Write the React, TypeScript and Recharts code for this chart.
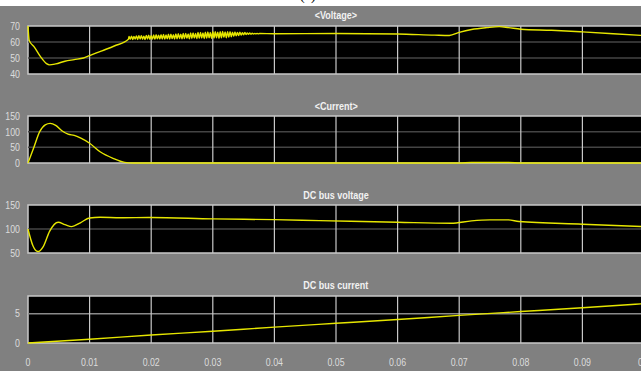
import { LineChart, Line, XAxis, YAxis, ReferenceArea, ReferenceLine } from 'recharts';

// time axis shared by all four scopes
const X_TICKS = [0, 0.01, 0.02, 0.03, 0.04, 0.05, 0.06, 0.07, 0.08, 0.09, 0.1];
const X_GRID = [0.01, 0.02, 0.03, 0.04, 0.05, 0.06, 0.07, 0.08, 0.09];

// <Voltage>  [t, v]  (start-up dip, switching ripple, then the bump near 0.075)
const voltage: [number, number][] = [
  [0, 70], [0.0002, 61], [0.001, 57], [0.002, 51], [0.003, 46.5], [0.0035, 45.7], [0.0045, 46.3],
  [0.006, 48], [0.0075, 49], [0.009, 50], [0.01, 51.5], [0.012, 54.5], [0.014, 57.5], [0.0163, 61.7],
  [0.0164, 63.5], [0.0166, 61.7], [0.0168, 63.7], [0.017, 61.6], [0.0172, 63.4], [0.0174, 61.8],
  [0.0176, 63.8], [0.0178, 61.6], [0.018, 63.9], [0.0182, 61.9], [0.0184, 64.0], [0.0186, 61.7],
  [0.0188, 63.7], [0.019, 61.6], [0.0192, 64.1], [0.0194, 61.9], [0.0196, 64.2], [0.0198, 61.7],
  [0.02, 64.0], [0.0202, 61.8], [0.0204, 64.4], [0.0206, 61.7], [0.0208, 64.5], [0.021, 62.0],
  [0.0212, 64.2], [0.0214, 61.8], [0.0216, 64.6], [0.0218, 61.9], [0.022, 64.7], [0.0222, 61.8],
  [0.0224, 64.4], [0.0226, 62.0], [0.0228, 64.8], [0.023, 61.9], [0.0232, 64.9], [0.0234, 62.1],
  [0.0236, 64.6], [0.0238, 61.9], [0.024, 65.0], [0.0242, 62.0], [0.0244, 65.2], [0.0246, 62.2],
  [0.0248, 64.9], [0.025, 62.0], [0.0252, 65.3], [0.0254, 62.1], [0.0256, 65.4], [0.0258, 62.3],
  [0.026, 65.1], [0.0262, 62.0], [0.0264, 65.6], [0.0266, 62.2], [0.0268, 65.7], [0.027, 62.4],
  [0.0272, 65.4], [0.0274, 62.1], [0.0276, 65.9], [0.0278, 62.3], [0.028, 66.0], [0.0282, 62.5],
  [0.0284, 65.7], [0.0286, 62.2], [0.0288, 66.1], [0.029, 62.4], [0.0292, 66.3], [0.0294, 62.6],
  [0.0296, 66.0], [0.0298, 62.3], [0.03, 66.4], [0.0302, 62.5], [0.0304, 66.5], [0.0306, 62.7],
  [0.0308, 66.2], [0.031, 62.4], [0.0312, 66.5], [0.0314, 62.6], [0.0316, 66.6], [0.0318, 62.9],
  [0.032, 66.3], [0.0322, 62.7], [0.0324, 66.5], [0.0326, 63.0], [0.0328, 66.4], [0.033, 63.3],
  [0.0332, 66.2], [0.0334, 63.5], [0.0336, 66.3], [0.0338, 63.8], [0.034, 66.0], [0.0342, 64.0],
  [0.0344, 66.1], [0.0346, 64.3], [0.0348, 65.8], [0.035, 64.5], [0.0352, 65.9], [0.0354, 64.6],
  [0.0356, 65.7], [0.0358, 64.8], [0.036, 65.6], [0.0362, 64.9], [0.0364, 65.5], [0.0366, 65.0],
  [0.0368, 65.4], [0.037, 65.1], [0.0372, 65.3], [0.0374, 65.1], [0.0376, 65.3],
  [0.04, 65.2], [0.05, 65.3], [0.06, 65], [0.066, 64.3], [0.0684, 64.1], [0.07, 66], [0.072, 67.8],
  [0.0745, 69], [0.0765, 69.6], [0.078, 69], [0.08, 68], [0.085, 67.3], [0.09, 66.3], [0.095, 65.2],
  [0.1, 64],
];

// <Current>
const current: [number, number][] = [
  [0, 0], [0.0009, 47], [0.0019, 100], [0.0028, 122], [0.0036, 126.5], [0.0045, 120], [0.0055, 103],
  [0.0065, 92], [0.0075, 88], [0.0085, 80], [0.01, 63], [0.0117, 36], [0.0138, 15], [0.0157, 2],
  [0.017, 0], [0.07, 0], [0.072, 1.5], [0.078, 1.5], [0.08, 0], [0.1, 0],
];

// DC bus voltage
const dcVoltage: [number, number][] = [
  [0, 100], [0.0008, 65], [0.0016, 53], [0.0025, 64], [0.0035, 95], [0.0049, 114], [0.006, 109],
  [0.0071, 105], [0.0085, 113], [0.01, 123], [0.0117, 124.5], [0.015, 123.5], [0.02, 124],
  [0.03, 121], [0.04, 119.5], [0.0473, 117.5], [0.06, 114], [0.0687, 112], [0.072, 117],
  [0.075, 119], [0.078, 119], [0.0797, 115.5], [0.09, 110], [0.1, 105],
];

// DC bus current
const dcCurrent: [number, number][] = [
  [0, 0], [0.01, 0.65], [0.02, 1.35], [0.03, 2.0], [0.04, 2.7], [0.05, 3.35],
  [0.06, 4.0], [0.07, 4.7], [0.08, 5.35], [0.09, 6.0], [0.1, 6.7],
];

const FONT = '"Liberation Sans", Arial, sans-serif';
const YELLOW = '#e6e600';
const FRAME = '#c8c8c8';

// scope labels are a condensed sans, so squeeze the glyphs horizontally
const NarrowTick = (props: any) => {
  const { x, y, payload, textAnchor, dy } = props;
  return (
    <text
      transform={`translate(${x},${y}) scale(0.8,1)`}
      textAnchor={textAnchor}
      dy={dy}
      fill="#dcdcdc"
      fontSize={11}
      fontFamily={FONT}
    >
      {String(payload.value)}
    </text>
  );
};

interface PanelProps {
  title: string;
  titleY: number;
  series: [number, number][];
  yDomain: [number, number];
  yTicks: number[];
  yGrid: number[];
  gridColor: string;
  top: number;
  bottom: number;
  showX?: boolean;
}

function Panel({ title, titleY, series, yDomain, yTicks, yGrid, gridColor, top, bottom, showX }: PanelProps) {
  const rows = series.map(([t, v]) => ({ t, v }));
  const mTop = 8;
  const h = bottom - top + mTop + (showX ? 28 : 8);

  return (
    <>
      <div style={{ position: 'absolute', left: 0, width: 672, top: titleY - 7, lineHeight: '14px', textAlign: 'center' }}>
        <span style={{ display: 'inline-block', transform: 'scaleX(0.82)', color: '#f2f2f2', fontSize: 11, fontWeight: 700, fontFamily: FONT }}>
          {title}
        </span>
      </div>
      <div style={{ position: 'absolute', left: 0, top: top - mTop }}>
        <LineChart width={660} height={h} data={rows} margin={{ top: mTop, right: 16, bottom: showX ? 0 : 8, left: 0 }}>
          <XAxis
            type="number"
            dataKey="t"
            domain={[0, 0.1]}
            ticks={X_TICKS}
            interval={0}
            hide={!showX}
            height={28}
            tick={<NarrowTick dy="0.71em" />}
            tickMargin={9}
            axisLine={false}
            tickLine={false}
          />
          <YAxis
            type="number"
            domain={yDomain}
            ticks={yTicks}
            interval={0}
            width={28}
            tick={<NarrowTick dy="0.35em" />}
            axisLine={false}
            tickLine={false}
          />
          <ReferenceArea x1={0} x2={0.1} y1={yDomain[0]} y2={yDomain[1]} fill="#000" fillOpacity={1} stroke={FRAME} strokeWidth={1.5} />
          {yGrid.map((y) => (
            <ReferenceLine key={'y' + y} y={y} stroke={gridColor} strokeWidth={1.5} />
          ))}
          {X_GRID.map((x) => (
            <ReferenceLine key={'x' + x} x={x} stroke={FRAME} strokeWidth={1.2} />
          ))}
          <Line type="monotoneX" dataKey="v" stroke={YELLOW} strokeWidth={1.4} dot={false} isAnimationActive={false} />
        </LineChart>
      </div>
    </>
  );
}

export default function App() {
  return (
    <div style={{ position: 'absolute', left: 0, top: 0, width: 641, height: 371, overflow: 'hidden', background: '#808080' }}>
      <div style={{ position: 'absolute', left: 0, top: 0, width: 641, height: 6, background: '#fff', overflow: 'hidden' }}>
        <div style={{ position: 'absolute', left: 300, top: -11, fontSize: 14, lineHeight: '14px', fontFamily: 'serif', color: '#000' }}>(a)</div>
      </div>
      <Panel title="<Voltage>" titleY={14} series={voltage} yDomain={[40, 70]} yTicks={[40, 50, 60, 70]} yGrid={[50, 60]} gridColor="#444" top={26} bottom={74} />
      <Panel title="<Current>" titleY={105} series={current} yDomain={[0, 150]} yTicks={[0, 50, 100, 150]} yGrid={[50, 100]} gridColor="#444" top={116} bottom={163} />
      <Panel title="DC bus voltage" titleY={194} series={dcVoltage} yDomain={[50, 150]} yTicks={[50, 100, 150]} yGrid={[100]} gridColor="#444" top={205} bottom={253} />
      <Panel title="DC bus current" titleY={284} series={dcCurrent} yDomain={[0, 8]} yTicks={[0, 5]} yGrid={[5]} gridColor="#8a8a8a" top={296} bottom={343} showX />
    </div>
  );
}
